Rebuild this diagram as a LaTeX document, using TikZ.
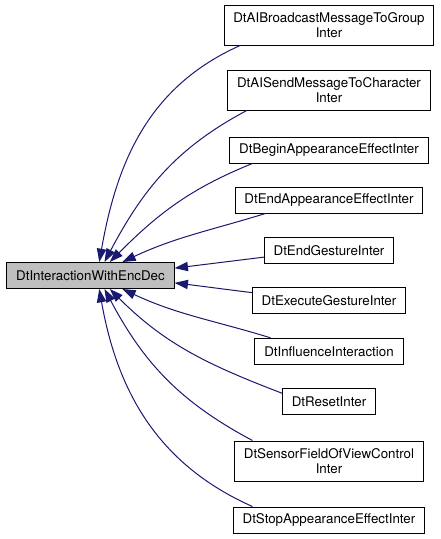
\documentclass[tikz,border=0pt]{standalone}
\usepackage{fontspec}
\setmainfont{TeX Gyre Heros}
\usetikzlibrary{arrows.meta}
\definecolor{edgeblue}{RGB}{25,25,112}

\begin{document}
\begin{tikzpicture}[
			x=0.75pt, y=0.75pt,
			font=\fontsize{10}{11}\selectfont,
			cls/.style={draw=black,fill=white,line width=0.75pt,inner xsep=7pt,inner ysep=2pt,minimum height=19.5pt,align=center},
			cls2/.style={cls,minimum height=30pt},
			baseclass/.style={cls,fill=black!25},
			inh/.style={-{Triangle[length=10pt,width=7pt]},draw=edgeblue,line width=0.75pt}]

		\useasboundingbox (0,0) rectangle (440,-539);

		\node[baseclass]  (base) at (90.5,-275.5) {DtInteractionWithEncDec};

		\node[cls2] (bcast)     at (329,-25)    {DtAIBroadcastMessageToGroup\\Inter};
		\node[cls2] (sendmsg)   at (329,-90)    {DtAISendMessageToCharacter\\Inter};
		\node[cls]  (beginapp)  at (329,-150)   {DtBeginAppearanceEffectInter};
		\node[cls]  (endapp)    at (329,-200)   {DtEndAppearanceEffectInter};
		\node[cls]  (endgest)   at (329,-250.3) {DtEndGestureInter};
		\node[cls]  (execgest)  at (329,-300.7) {DtExecuteGestureInter};
		\node[cls]  (influence) at (329,-351.3) {DtInfluenceInteraction};
		\node[cls]  (reset)     at (329,-401.5) {DtResetInter};
		\node[cls2] (sensor)    at (329,-461)   {DtSensorFieldOfViewControl\\Inter};
		\node[cls]  (stopapp)   at (329,-520)   {DtStopAppearanceEffectInter};

		\draw[inh] (bcast.193.5)     to[out=204,in=80]  (base.57);
		\draw[inh] (sendmsg.194)     to[out=208,in=62]  (base.44);
		\draw[inh] (beginapp.190.5)  to[out=202,in=45]  (base.35.5);
		\draw[inh] (endapp.192.7)    to[out=197,in=25]  (base.23.4);
		\draw[inh] (endgest.186)     to[out=187,in=7]   (base.5);
		\draw[inh] (execgest.174)    to[out=173,in=-7]  (base.-5);
		\draw[inh] (influence.167.6) to[out=163,in=-25] (base.-23.4);
		\draw[inh] (reset.170.2)     to[out=159,in=-45] (base.-35.5);
		\draw[inh] (sensor.165.5)    to[out=152,in=-62] (base.-44);
		\draw[inh] (stopapp.170.4)   to[out=156,in=-80] (base.-57);
	\end{tikzpicture}
\end{document}
